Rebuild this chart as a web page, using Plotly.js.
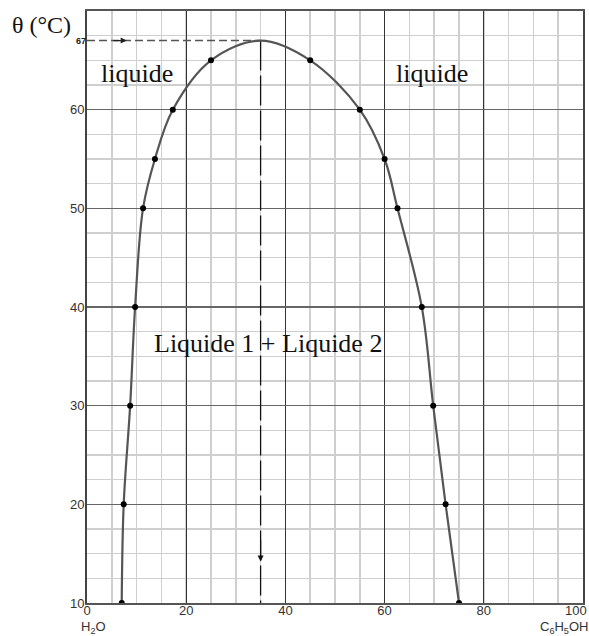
<!DOCTYPE html>
<html>
<head>
<meta charset="utf-8">
<script src="https://cdn.plot.ly/plotly-3.0.1.min.js"></script>
<style>
  html, body { margin: 0; padding: 0; background: #fff; }
  #chart { width: 589px; height: 636px; }
</style>
</head>
<body>
<div id="chart"></div>
<script>
// Water / phenol miscibility curve (mass % of phenol vs temperature)
// Water-rich branch, from bottom to top
const waterRichX = [7.0, 7.4, 8.7, 9.7, 11.3, 13.7, 17.3, 25.0];
const waterRichY = [10, 20, 30, 40, 50, 55, 60, 65];
// Phenol-rich branch, from top to bottom
const phenolRichX = [45.0, 55.0, 60.0, 62.6, 67.5, 69.8, 72.3, 75.0];
const phenolRichY = [65, 60, 55, 50, 40, 30, 20, 10];
// Critical point of the curve
const criticalX = [35];
const criticalY = [67];

// composition axis labels; the last one sits at the right edge and is
// written as an annotation so it can be right-aligned
const xTickVals = [0, 20, 40, 60, 80];
const xTickText = ['0', '20', '40', '60', '80'];
const xEndVal = 100;
const xEndText = '100';
const yTickVals = [10, 20, 30, 40, 50, 60];
const yTickText = ['10', '20', '30', '40', '50', '60'];

const yMin = 10, yMax = 70;

const curveX = waterRichX.concat(criticalX, phenolRichX);
const curveY = waterRichY.concat(criticalY, phenolRichY);
const pointsX = waterRichX.concat(phenolRichX);
const pointsY = waterRichY.concat(phenolRichY);

const serif = 'Liberation Serif, Times New Roman, serif';
const sans = 'Liberation Sans, Arial, sans-serif';

const traces = [
  {
    // dashed guide from the temperature axis to the critical point
    x: [0, criticalX[0]], y: [criticalY[0], criticalY[0]],
    mode: 'lines', type: 'scatter', hoverinfo: 'skip',
    line: { color: '#555', width: 1.5, dash: '8px,4px' }
  },
  {
    // dashed guide from the critical point down to the composition axis
    x: [criticalX[0], criticalX[0]], y: [criticalY[0], yMin],
    mode: 'lines', type: 'scatter', hoverinfo: 'skip',
    line: { color: '#111', width: 1.3, dash: '30px,5px' }
  },
  {
    x: curveX, y: curveY, mode: 'lines', type: 'scatter',
    line: { color: '#555', width: 2.2, shape: 'spline', smoothing: 1 }
  },
  {
    x: pointsX, y: pointsY, mode: 'markers', type: 'scatter',
    marker: { color: '#000', size: 6 }
  },
  {
    // carries the label of the critical temperature only
    x: [criticalX[0]], y: [criticalY[0]], yaxis: 'y2',
    mode: 'markers', type: 'scatter', hoverinfo: 'skip',
    marker: { size: 0, opacity: 0 }
  }
];

const layout = {
  width: 589, height: 636,
  margin: { l: 87, r: 6, t: 11, b: 33 },
  paper_bgcolor: '#fff', plot_bgcolor: '#fff',
  showlegend: false,
  title: {
    text: 'θ (°C)',
    font: { family: serif, size: 24, color: '#111' },
    xref: 'container', yref: 'container',
    x: 12 / 589, xanchor: 'left',
    y: 1 - 25 / 636, yanchor: 'middle'
  },
  xaxis: {
    range: [0, 100],
    tickmode: 'array', tickvals: xTickVals.concat([xEndVal]), ticktext: xTickText.concat(['']),
    ticks: '', ticklen: 0, ticklabelstandoff: -6,
    tickfont: { family: sans, size: 13, color: '#333' },
    showgrid: true, gridcolor: '#333', gridwidth: 1.2,
    minor: { tick0: 0, dtick: 5, showgrid: true, gridcolor: '#cfcfcf', gridwidth: 1.5, ticks: '' },
    showline: true, linecolor: '#555', linewidth: 2, mirror: true,
    zeroline: false, fixedrange: true
  },
  yaxis: {
    range: [yMin, yMax],
    tickmode: 'array', tickvals: yTickVals, ticktext: yTickText,
    ticks: '', ticklen: 0, ticklabelstandoff: -2,
    tickfont: { family: sans, size: 13, color: '#333' },
    showgrid: true, gridcolor: '#666', gridwidth: 1.6,
    minor: { tick0: 10, dtick: 2.5, showgrid: true, gridcolor: '#cfcfcf', gridwidth: 1.5, ticks: '' },
    showline: true, linecolor: '#444', linewidth: 2, mirror: true,
    zeroline: false, fixedrange: true
  },
  yaxis2: {
    overlaying: 'y', side: 'left', range: [yMin, yMax],
    tickmode: 'array', tickvals: criticalY, ticktext: criticalY.map(String),
    ticks: '', ticklen: 0,
    tickfont: { family: sans, size: 9, color: '#222', weight: 'bold' },
    showgrid: false, showline: false, zeroline: false, fixedrange: true
  },
  annotations: [
    { x: 10.0, y: 63.7, xref: 'x', yref: 'y', text: 'liquide', showarrow: false,
      font: { family: serif, size: 26, color: '#111' } },
    { x: 69.5, y: 63.7, xref: 'x', yref: 'y', text: 'liquide', showarrow: false,
      font: { family: serif, size: 26, color: '#111' } },
    { x: 36.5, y: 36.3, xref: 'x', yref: 'y', text: 'Liquide 1 + Liquide 2', showarrow: false,
      font: { family: serif, size: 26, color: '#111' } },
    { x: xEndVal, y: -7 / 592, xref: 'x', yref: 'paper', xanchor: 'right', yanchor: 'middle', xshift: 6,
      text: xEndText, showarrow: false,
      font: { family: sans, size: 13, color: '#333' } },
    { x: 0, y: -24 / 592, xref: 'x', yref: 'paper', xanchor: 'left', yanchor: 'middle', xshift: -8,
      text: 'H<sub>2</sub>O', showarrow: false,
      font: { family: sans, size: 13, color: '#333' } },
    { x: 100, y: -24 / 592, xref: 'x', yref: 'paper', xanchor: 'right', yanchor: 'middle', xshift: 7,
      text: 'C<sub>6</sub>H<sub>5</sub>OH', showarrow: false,
      font: { family: sans, size: 13, color: '#333' } },
    // arrow heads along the guides
    { x: 8, y: criticalY[0], ax: 5, ay: criticalY[0], xref: 'x', yref: 'y', axref: 'x', ayref: 'y',
      text: '', showarrow: true, arrowhead: 2, arrowsize: 1, arrowwidth: 1.2, arrowcolor: '#222' },
    { x: criticalX[0], y: 14.2, ax: criticalX[0], ay: 16.5, xref: 'x', yref: 'y', axref: 'x', ayref: 'y',
      text: '', showarrow: true, arrowhead: 2, arrowsize: 1, arrowwidth: 1.2, arrowcolor: '#111' }
  ]
};

Plotly.newPlot('chart', traces, layout, { staticPlot: true, displayModeBar: false });
</script>
</body>
</html>
